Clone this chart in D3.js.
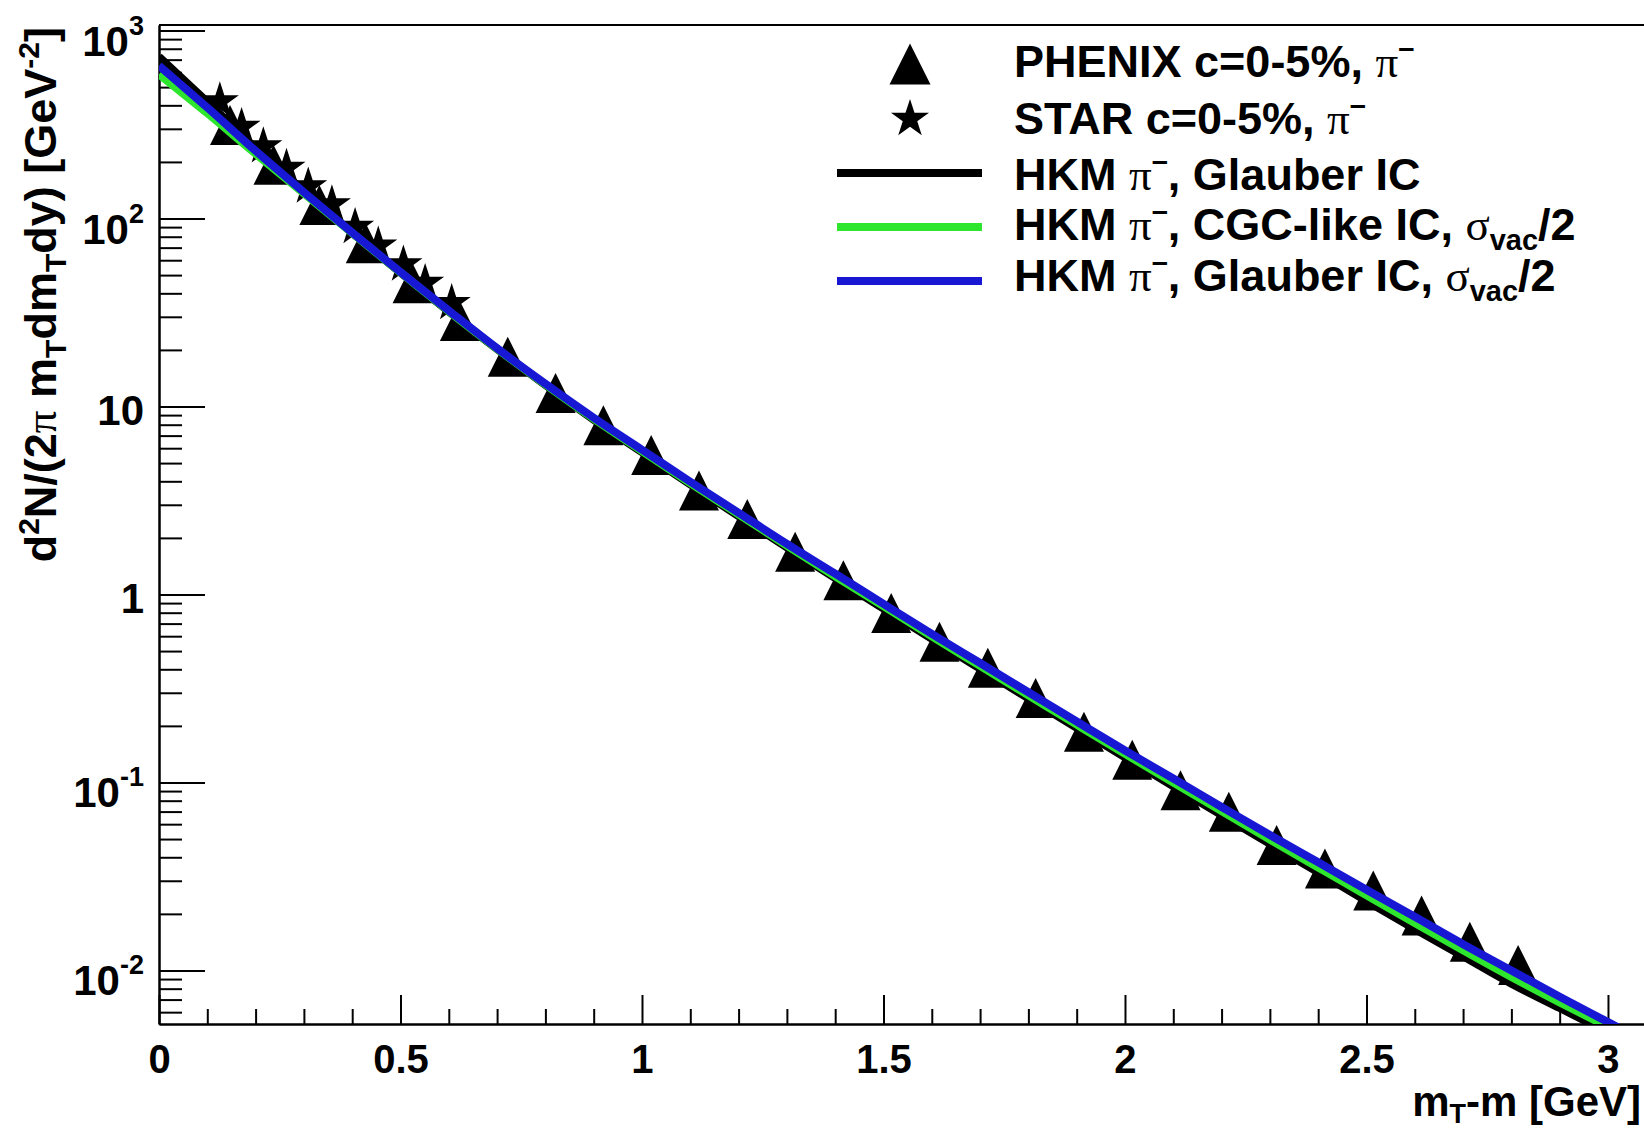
<!DOCTYPE html>
<html>
<head>
<meta charset="utf-8">
<script src="https://cdn.jsdelivr.net/npm/d3@7"></script>
<style>
  html, body { margin: 0; padding: 0; background: #fff; }
  svg { display: block; }
  text { font-family: "Liberation Sans", Arial, Helvetica, sans-serif; font-weight: bold; fill: #000; }
  .greek { font-family: "Liberation Serif", "DejaVu Serif", serif; font-weight: normal; }
</style>
</head>
<body>
<svg id="chart" width="1644" height="1129"></svg>
<script>
// ---- measured spectra (m_T - m in GeV, yield in GeV^-2) ----
const phenixX = [0.147, 0.237, 0.332, 0.428, 0.525, 0.623, 0.722, 0.821, 0.920, 1.019,
                 1.118, 1.218, 1.317, 1.417, 1.516, 1.616, 1.716, 1.815, 1.915, 2.015,
                 2.115, 2.215, 2.314, 2.414, 2.514, 2.614, 2.714, 2.814];
const phenixY = [314, 193, 118, 73.8, 45.2, 28.5, 18.4, 11.8, 7.95, 5.52,
                 3.57, 2.52, 1.69, 1.19, 0.797, 0.561, 0.408, 0.281, 0.186, 0.132,
                 0.0909, 0.0699, 0.0465, 0.0349, 0.0266, 0.0196, 0.0142, 0.0107];

const starX = [0.126, 0.171, 0.216, 0.264, 0.309, 0.358, 0.406, 0.454, 0.506, 0.551, 0.606];
const starY = [420, 307, 242, 186, 148, 119, 90.1, 71.8, 56.9, 45.4, 35.5];

// ---- HKM model curves ----
const modelX = [0.0, 0.1, 0.2, 0.3, 0.4, 0.5, 0.6, 0.7, 0.8, 0.9, 1.0,
                1.1, 1.2, 1.3, 1.4, 1.5, 1.6, 1.7, 1.8, 1.9, 2.0,
                2.1, 2.2, 2.3, 2.4, 2.5, 2.6, 2.7, 2.8, 2.9, 3.0, 3.1];
const hkmGlauber = [725, 417, 237, 140, 84.1, 51.5, 32.0, 20.2, 13.0, 8.51, 5.71,
                    3.85, 2.61, 1.78, 1.22, 0.841, 0.581, 0.403, 0.280, 0.195, 0.136,
                    0.0955, 0.0670, 0.0471, 0.0333, 0.0234, 0.0166, 0.0119, 0.00851, 0.00631, 0.00468, 0.00345];
const hkmCGC = [585, 363, 221, 136, 83.6, 51.6, 32.1, 20.3, 13.1, 8.61, 5.79,
                3.91, 2.67, 1.82, 1.25, 0.867, 0.598, 0.417, 0.291, 0.203, 0.142,
                0.100, 0.0705, 0.0497, 0.0353, 0.0251, 0.0179, 0.0128, 0.00923, 0.00676, 0.00501, 0.00370];
const hkmGlauberHalf = [650, 389, 229, 138, 84.1, 51.9, 32.4, 20.4, 13.2, 8.71, 5.89,
                        3.98, 2.72, 1.86, 1.29, 0.891, 0.617, 0.432, 0.302, 0.211, 0.148,
                        0.105, 0.0741, 0.0525, 0.0376, 0.0269, 0.0193, 0.0138, 0.0100, 0.00724, 0.00531, 0.00389];

// ---- axes ----
const xDomain = [0, 3.075];
const yDomain = [0.00519, 1070];
const xMajor = [0, 0.5, 1, 1.5, 2, 2.5, 3];
const xMinor = d3.range(0, 31).map(i => i / 10).filter(v => !xMajor.includes(v));
const yMajor = [1e-2, 1e-1, 1, 10, 1e2, 1e3];
const yMajorLabels = [["10", "-2"], ["10", "-1"], ["1", null], ["10", null], ["10", "2"], ["10", "3"]];

const W = 1644, H = 1129;
const plot = { left: 159, right: 1644.2, top: 25, bottom: 1024 };

const svg = d3.select("#chart");
svg.append("rect").attr("width", W).attr("height", H).attr("fill", "#fff");

const x = d3.scaleLinear().domain(xDomain).range([plot.left, plot.right]);
const y = d3.scaleLog().domain(yDomain).range([plot.bottom, plot.top]);

const yMinor = [];
for (let e = -3; e <= 3; e++) {
  for (let k = 2; k <= 9; k++) {
    const v = k * Math.pow(10, e);
    if (v >= yDomain[0] && v <= yDomain[1]) yMinor.push(v);
  }
}

// frame top edge
svg.append("line")
  .attr("x1", plot.left).attr("x2", W)
  .attr("y1", plot.top).attr("y2", plot.top)
  .attr("stroke", "#000").attr("stroke-width", 2);

// x axis (ticks pointing into the frame)
const gx = svg.append("g").attr("transform", `translate(0,${plot.bottom})`);
gx.call(d3.axisBottom(x).tickValues(xMinor).tickSizeInner(-15).tickSizeOuter(0).tickFormat(""));
gx.append("g").call(d3.axisBottom(x).tickValues(xMajor).tickSizeInner(-29).tickSizeOuter(0)
  .tickFormat(d => d3.format("")(d)));
gx.selectAll("path.domain").attr("stroke", "#000").attr("stroke-width", 2);
gx.selectAll(".tick line").attr("stroke", "#000").attr("stroke-width", 2);
gx.selectAll(".tick text")
  .attr("y", 49).attr("dy", 0)
  .style("font-size", "40px")
  .style("font-family", '"Liberation Sans", Arial, sans-serif')
  .style("font-weight", "bold")
  .attr("fill", "#000");

// y axis (ticks pointing into the frame)
const gy = svg.append("g").attr("transform", `translate(${plot.left},0)`);
gy.call(d3.axisLeft(y).tickValues(yMinor).tickSizeInner(-23).tickSizeOuter(0).tickFormat(""));
gy.append("g").call(d3.axisLeft(y).tickValues(yMajor).tickSizeInner(-46).tickSizeOuter(0).tickFormat(""));
gy.selectAll("path.domain").attr("stroke", "#000").attr("stroke-width", 2);
gy.selectAll(".tick line").attr("stroke", "#000").attr("stroke-width", 2);

// y tick labels with exponents
yMajor.forEach((v, i) => {
  const [base, exp] = yMajorLabels[i];
  const t = svg.append("text")
    .attr("x", 144)
    .attr("y", y(v) + (exp ? 25 : 19))
    .attr("text-anchor", "end")
    .style("font-size", "42px");
  t.append("tspan").text(base);
  if (exp) {
    t.append("tspan").attr("dy", -21).style("font-size", "27px").text(exp);
  }
});

// axis titles
const yTitle = svg.append("text")
  .attr("transform", "translate(56,27) rotate(-90)")
  .attr("text-anchor", "end")
  .style("font-size", "45px");
yTitle.append("tspan").text("d");
yTitle.append("tspan").attr("dy", -17).style("font-size", "30px").text("2");
yTitle.append("tspan").attr("dy", 17).text("N/(2");
yTitle.append("tspan").attr("class", "greek").text("\u03C0");
yTitle.append("tspan").text(" m");
yTitle.append("tspan").attr("dy", 10).style("font-size", "30px").text("T");
yTitle.append("tspan").attr("dy", -10).text("dm");
yTitle.append("tspan").attr("dy", 10).style("font-size", "30px").text("T");
yTitle.append("tspan").attr("dy", -10).text("dy) [GeV");
yTitle.append("tspan").attr("dy", -17).style("font-size", "30px").text("-2");
yTitle.append("tspan").attr("dy", 17).text("]");

const xTitle = svg.append("text")
  .attr("x", 1641).attr("y", 1116)
  .attr("text-anchor", "end")
  .style("font-size", "42px");
xTitle.append("tspan").text("m");
xTitle.append("tspan").attr("dy", 7).style("font-size", "27px").text("T");
xTitle.append("tspan").attr("dy", -7).text("-m [GeV]");

// clip region = frame interior
svg.append("clipPath").attr("id", "frameClip")
  .append("rect")
  .attr("x", plot.left).attr("y", plot.top)
  .attr("width", plot.right - plot.left).attr("height", plot.bottom - plot.top);

const markers = svg.append("g").attr("clip-path", "url(#frameClip)");

const triPath = (cx, cy, s) => `M${cx - s},${cy + s}L${cx + s},${cy + s}L${cx},${cy - s}Z`;
const starSymbol = d3.symbol().type(d3.symbolStar).size(449);

markers.selectAll("path.phenix")
  .data(phenixX.map((v, i) => [v, phenixY[i]]))
  .join("path")
  .attr("class", "phenix")
  .attr("d", d => triPath(x(d[0]), y(d[1]), 20))
  .attr("fill", "#000");

markers.selectAll("path.star")
  .data(starX.map((v, i) => [v, starY[i]]))
  .join("path")
  .attr("class", "star")
  .attr("transform", d => `translate(${x(d[0])},${y(d[1])})`)
  .attr("d", starSymbol)
  .attr("fill", "#000");

// model curves drawn over the data points
const curves = [
  { values: hkmGlauber, color: "#000000" },
  { values: hkmCGC, color: "#2ee62e" },
  { values: hkmGlauberHalf, color: "#1818d4" }
];
const lineGen = d3.line().x(d => x(d[0])).y(d => y(d[1])).curve(d3.curveMonotoneX);
const lines = svg.append("g").attr("clip-path", "url(#frameClip)");
curves.forEach(c => {
  lines.append("path")
    .datum(modelX.map((v, i) => [v, c.values[i]]))
    .attr("d", lineGen)
    .attr("fill", "none")
    .attr("stroke", c.color)
    .attr("stroke-width", 8)
    .attr("stroke-linejoin", "round");
});

// legend
const legendSymX = 910, legendLine = [837, 982], legendTextX = 1014;
const legendCenters = [64, 117, 173, 227, 281];
const legendBaselines = [77, 134, 190, 240, 291];
const leg = svg.append("g");

leg.append("path").attr("d", triPath(legendSymX, legendCenters[0], 20.5)).attr("fill", "#000");
leg.append("path").attr("transform", `translate(${legendSymX},${legendCenters[1] + 2})`)
  .attr("d", starSymbol).attr("fill", "#000");
curves.forEach((c, i) => {
  leg.append("line")
    .attr("x1", legendLine[0]).attr("x2", legendLine[1])
    .attr("y1", legendCenters[2 + i]).attr("y2", legendCenters[2 + i])
    .attr("stroke", c.color).attr("stroke-width", 8);
});

// pi with a raised minus; the text run that follows drops back to the baseline
function piMinus(t) {
  t.append("tspan").attr("class", "greek").text("\u03C0");
  t.append("tspan").attr("dy", -19).style("font-size", "29px").text("\u2013");
}
function sigmaVac(t) {
  t.append("tspan").attr("class", "greek").text("\u03C3");
  t.append("tspan").attr("dy", 10).style("font-size", "29px").text("vac");
  t.append("tspan").attr("dy", -10).text("/2");
}
const legendText = [
  t => { t.append("tspan").text("PHENIX c=0-5%, "); piMinus(t); },
  t => { t.append("tspan").text("STAR c=0-5%, "); piMinus(t); },
  t => { t.append("tspan").text("HKM "); piMinus(t); t.append("tspan").attr("dy", 19).text(", Glauber IC"); },
  t => { t.append("tspan").text("HKM "); piMinus(t); t.append("tspan").attr("dy", 19).text(", CGC-like IC, "); sigmaVac(t); },
  t => { t.append("tspan").text("HKM "); piMinus(t); t.append("tspan").attr("dy", 19).text(", Glauber IC, "); sigmaVac(t); }
];
legendText.forEach((fn, i) => {
  const t = leg.append("text")
    .attr("x", legendTextX).attr("y", legendBaselines[i])
    .style("font-size", "45px");
  fn(t);
});
</script>
</body>
</html>
